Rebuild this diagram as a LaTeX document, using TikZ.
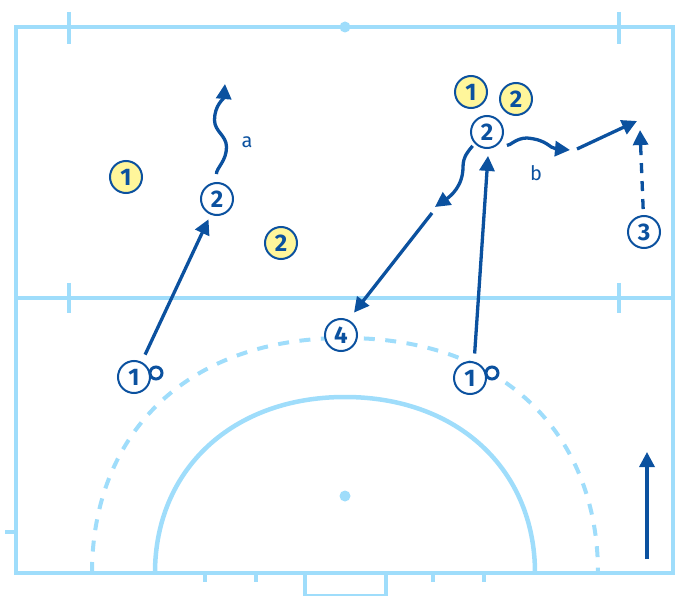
\documentclass[tikz,border=0pt]{standalone}
\usepackage{fontspec}
\setmainfont{Fira Sans}
\newfontfamily\numfont{Fira Sans Bold}
\usetikzlibrary{arrows.meta}
\definecolor{pitch}{HTML}{9FDDFB}
\definecolor{ink}{HTML}{0B519F}
\definecolor{cone}{HTML}{FFF69B}
\tikzset{
  x=1pt,y=-1pt,
  pitchline/.style={draw=pitch,line width=4.5pt},
  pitchthin/.style={draw=pitch,line width=3.6pt},
  goalbar/.style={draw=pitch,line width=2pt},
  pitchdash/.style={draw=pitch,line width=4pt,dash pattern=on 11pt off 10.5pt},
  player/.style={circle,draw=ink,line width=2pt,fill=white,minimum size=32pt,inner sep=0pt,text=ink,font=\numfont\fontsize{24}{24}\selectfont},
  opp/.style={player,fill=cone},
  ballmark/.style={circle,draw=ink,line width=3pt,fill=white,minimum size=12pt,inner sep=0pt},
  spot/.style={circle,fill=pitch,minimum size=11pt,inner sep=0pt},
  run/.style={draw=ink,line width=3.3pt,-{Triangle[length=15pt,width=15pt]}},
  wavy/.style={draw=ink,line width=3.3pt,-{Triangle[length=15pt,width=15pt]}},
  passdash/.style={run,dash pattern=on 10pt off 8pt},
  lab/.style={text=ink,font=\fontsize{20}{20}\selectfont,inner sep=0pt},
}
\begin{document}
\begin{tikzpicture}
\useasboundingbox (0,0) rectangle (675,596);
% pitch
\draw[goalbar] (305,595) -- (386,595);
\draw[pitchthin] (305,573) -- (305,596);
\draw[pitchthin] (386,573) -- (386,596);
\draw[pitchline] (16,27) rectangle (673,573);
\draw[pitchline] (16,298) -- (673,298);
\foreach \x in {69,619}{
  \draw[pitchthin] (\x,12) -- (\x,44);
  \draw[pitchthin] (\x,283) -- (\x,313);
}
\foreach \x in {205,256,433,484}{ \draw[pitchthin] (\x,573) -- (\x,582); }
\draw[pitchthin] (5,532) -- (16,532);
\draw[pitchline] (155,573) .. controls (155,470) and (232,397) .. (345,397) .. controls (458,397) and (535,470) .. (535,573);
\draw[pitchdash] (92,573) .. controls (92,440) and (180,338) .. (345,338) .. controls (510,338) and (598,440) .. (598,573);
\node[spot] (topspot) at (345,27) {};
\node[spot] (goalspot) at (345,496) {};
% players
\node[opp] (oa) at (126,177) {1};
\node[opp] (ob) at (281,243) {2};
\node[opp] (oc) at (471,92) {1};
\node[opp] (od) at (516,99) {2};
\node[player] (la) at (134,377) {1};
\node[player] (ra) at (470,378) {1};
\node[player] (lb) at (217,199) {2};
\node[player] (mb) at (487,132) {2};
\node[player] (tc) at (644,232) {3};
\node[player] (fd) at (341,335) {4};
\node[ballmark] (lball) at (156,373) {};
\node[ballmark] (rball) at (492,373) {};
\node[lab] (la-a) at (247,142) {a};
\node[lab] (la-b) at (536,173) {b};
% free ends
\coordinate (atip) at (225,84);
\coordinate (a1) at (226.5,147);
\coordinate (a2) at (214.5,120);
\coordinate (btip) at (570,150);
\coordinate (b1) at (527,138);
\coordinate (cstart) at (577,149);
\coordinate (ctip) at (637,121);
\coordinate (dtip) at (435,207);
\coordinate (d1) at (463,167);
\coordinate (estart) at (432,213);
\coordinate (ftip) at (640,130);
\coordinate (dirs) at (647,559);
\coordinate (dire) at (647,452);
% connectors
\draw[run,shorten <=8pt,shorten >=5pt] (la.63) -- (lb.-112);
\draw[run,shorten <=8pt,shorten >=7pt] (ra.76) -- (mb.-85);
\draw[wavy,shorten <=8pt] (lb.92) to[out=90,in=270] (a1) to[out=90,in=270] (a2) to[out=90,in=265] (atip);
\draw[wavy,shorten <=8pt] (mb.-45) to[out=-10,in=180] (b1) to[out=-5,in=175,looseness=1.2] (btip);
\draw[run] (cstart) -- (ctip);
\draw[wavy,shorten <=3pt] (mb.-137) to[out=230,in=90] (d1) to[out=270,in=35] (dtip);
\draw[run,shorten >=9pt] (estart) -- (fd.64);
\draw[passdash,shorten <=6pt] (tc.92) -- (ftip);
\draw[run] (dirs) -- (dire);
\end{tikzpicture}
\end{document}
